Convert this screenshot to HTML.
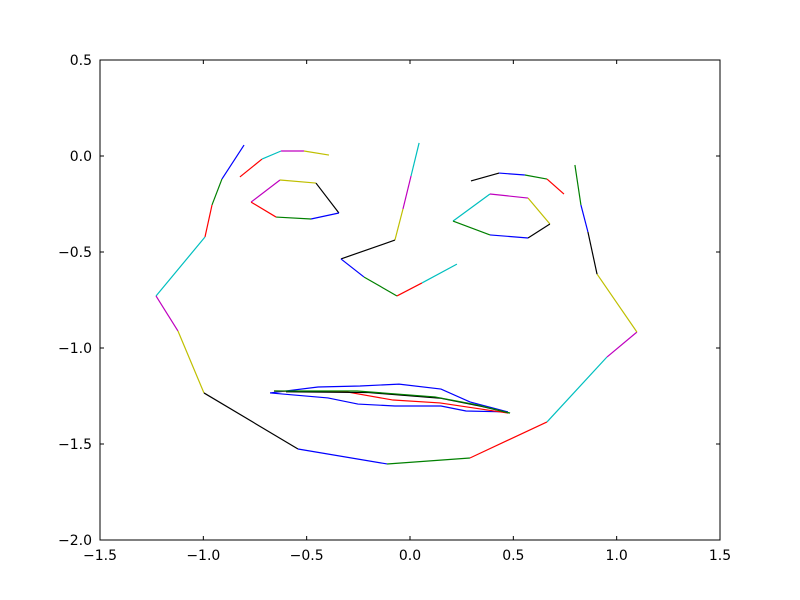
<!DOCTYPE html>
<html><head><meta charset="utf-8"><style>
html,body{margin:0;padding:0;background:#fff;}
svg{display:block;font-family:"DejaVu Sans","Liberation Sans",sans-serif;}
</style></head><body>
<svg id="chart" width="800" height="600" xmlns="http://www.w3.org/2000/svg">
<rect width="800" height="600" fill="#fff"/>
<g id="marks"></g>
<g id="axes"></g>
</svg>
<script>
const xTicks=[-1.5,-1.0,-0.5,0.0,0.5,1.0,1.5];
const yTicks=[-2.0,-1.5,-1.0,-0.5,0.0,0.5];
const xTickLabels=["\u22121.5","\u22121.0","\u22120.5","0.0","0.5","1.0","1.5"];
const yTickLabels=["\u22122.0","\u22121.5","\u22121.0","\u22120.5","0.0","0.5"];
// segmented features (colour cycles per segment)
const jawX=[-0.803,-0.910,-0.958,-0.992,-1.229,-1.123,-0.997,-0.542,-0.111,0.290,0.663,0.953,1.098,0.905,0.861,0.827,0.798];
const jawY=[0.057,-0.120,-0.255,-0.422,-0.729,-0.911,-1.234,-1.526,-1.604,-1.573,-1.385,-1.047,-0.917,-0.615,-0.396,-0.255,-0.047];
const leftBrowX=[-0.823,-0.716,-0.624,-0.513,-0.392];
const leftBrowY=[-0.109,-0.016,0.026,0.026,0.005];
const rightBrowX=[0.295,0.431,0.556,0.663,0.745];
const rightBrowY=[-0.130,-0.089,-0.099,-0.120,-0.198];
const noseX=[0.044,0.005,-0.034,-0.073,-0.334,-0.223,-0.063,0.058,0.227];
const noseY=[0.068,-0.104,-0.276,-0.438,-0.536,-0.630,-0.729,-0.661,-0.563];
const leftEyeX=[-0.769,-0.629,-0.455,-0.344,-0.479,-0.648,-0.769];
const leftEyeY=[-0.240,-0.125,-0.141,-0.297,-0.328,-0.318,-0.240];
const rightEyeX=[0.208,0.387,0.571,0.677,0.571,0.387,0.208];
const rightEyeY=[-0.339,-0.198,-0.219,-0.354,-0.427,-0.411,-0.339];
// mouth polylines
const mouthUpperX=[-0.677,-0.445,-0.242,-0.053,0.150,0.290,0.474];
const mouthUpperY=[-1.234,-1.203,-1.198,-1.188,-1.214,-1.281,-1.333];
const mouthLowerX=[-0.677,-0.397,-0.252,-0.073,0.150,0.271,0.474];
const mouthLowerY=[-1.234,-1.260,-1.292,-1.302,-1.302,-1.328,-1.333];
const mouthRedX=[-0.658,-0.305,-0.082,0.145,0.474];
const mouthRedY=[-1.224,-1.229,-1.271,-1.286,-1.339];
const mouthGreenX=[-0.658,-0.256,0.121,0.329,0.484];
const mouthGreenY=[-1.224,-1.224,-1.255,-1.297,-1.339];
const mouthBlackX=[-0.600,-0.200,0.150,0.350,0.484];
const mouthBlackY=[-1.228,-1.232,-1.262,-1.305,-1.339];

const L=100,R=720,T=60,B=540,xmin=-1.5,xmax=1.5,ymin=-2.0,ymax=0.5;
const sx=v=>L+(v-xmin)/(xmax-xmin)*(R-L);
const sy=v=>B-(v-ymin)/(ymax-ymin)*(B-T);
const NS="http://www.w3.org/2000/svg";
const marks=document.getElementById('marks');
const axes=document.getElementById('axes');
const cycle=['#0000ff','#008000','#ff0000','#00bfbf','#bf00bf','#bfbf00','#000000'];
let ci=0;
function segs(xs,ys,name){
  for(let i=0;i<xs.length-1;i++){
    const l=document.createElementNS(NS,'line');
    l.setAttribute('x1',sx(xs[i]));l.setAttribute('y1',sy(ys[i]));
    l.setAttribute('x2',sx(xs[i+1]));l.setAttribute('y2',sy(ys[i+1]));
    l.setAttribute('stroke',cycle[ci%7]);l.setAttribute('stroke-width','1.2');
    ci++;
    
    
    marks.appendChild(l);
  }
}
function poly(xs,ys,color,name){
  const p=document.createElementNS(NS,'polyline');
  p.setAttribute('points',xs.map((x,i)=>sx(x)+','+sy(ys[i])).join(' '));
  p.setAttribute('fill','none');p.setAttribute('stroke',color);p.setAttribute('stroke-width','1.2');
  
  
  marks.appendChild(p);
}
segs(jawX,jawY,'jaw');
segs(leftBrowX,leftBrowY,'left-brow');
segs(rightBrowX,rightBrowY,'right-brow');
segs(noseX,noseY,'nose');
segs(leftEyeX,leftEyeY,'left-eye');
segs(rightEyeX,rightEyeY,'right-eye');
poly(mouthUpperX,mouthUpperY,'#0000ff','mouth-upper');
poly(mouthLowerX,mouthLowerY,'#0000ff','mouth-lower');
poly(mouthRedX,mouthRedY,'#ff0000','mouth-inner-red');
poly(mouthBlackX,mouthBlackY,'#000000','mouth-inner-black');
poly(mouthGreenX,mouthGreenY,'#008000','mouth-inner-green');

// axes frame
const fr=document.createElementNS(NS,'rect');
fr.setAttribute('x',L);fr.setAttribute('y',T);fr.setAttribute('width',R-L);fr.setAttribute('height',B-T);
fr.setAttribute('fill','none');fr.setAttribute('stroke','#000');fr.setAttribute('stroke-width','1');


axes.appendChild(fr);
function ln(x1,y1,x2,y2){const l=document.createElementNS(NS,'line');l.setAttribute('x1',x1);l.setAttribute('y1',y1);l.setAttribute('x2',x2);l.setAttribute('y2',y2);l.setAttribute('stroke','#000');l.setAttribute('stroke-width','1');


axes.appendChild(l);}
function tx(x,y,s,anchor,name){const t=document.createElementNS(NS,'text');t.setAttribute('x',x);t.setAttribute('y',y);t.setAttribute('text-anchor',anchor);t.setAttribute('font-size','14');t.textContent=s;


axes.appendChild(t);}
xTicks.forEach((v,i)=>{const x=sx(v);ln(x,B,x,B-4);ln(x,T,x,T+4);tx(x,B+20,xTickLabels[i],'middle','x-tick-label');});
yTicks.forEach((v,i)=>{const y=sy(v);ln(L,y,L+4,y);ln(R,y,R-4,y);tx(L-8,y+5,yTickLabels[i],'end','y-tick-label');});
</script>
</body></html>
